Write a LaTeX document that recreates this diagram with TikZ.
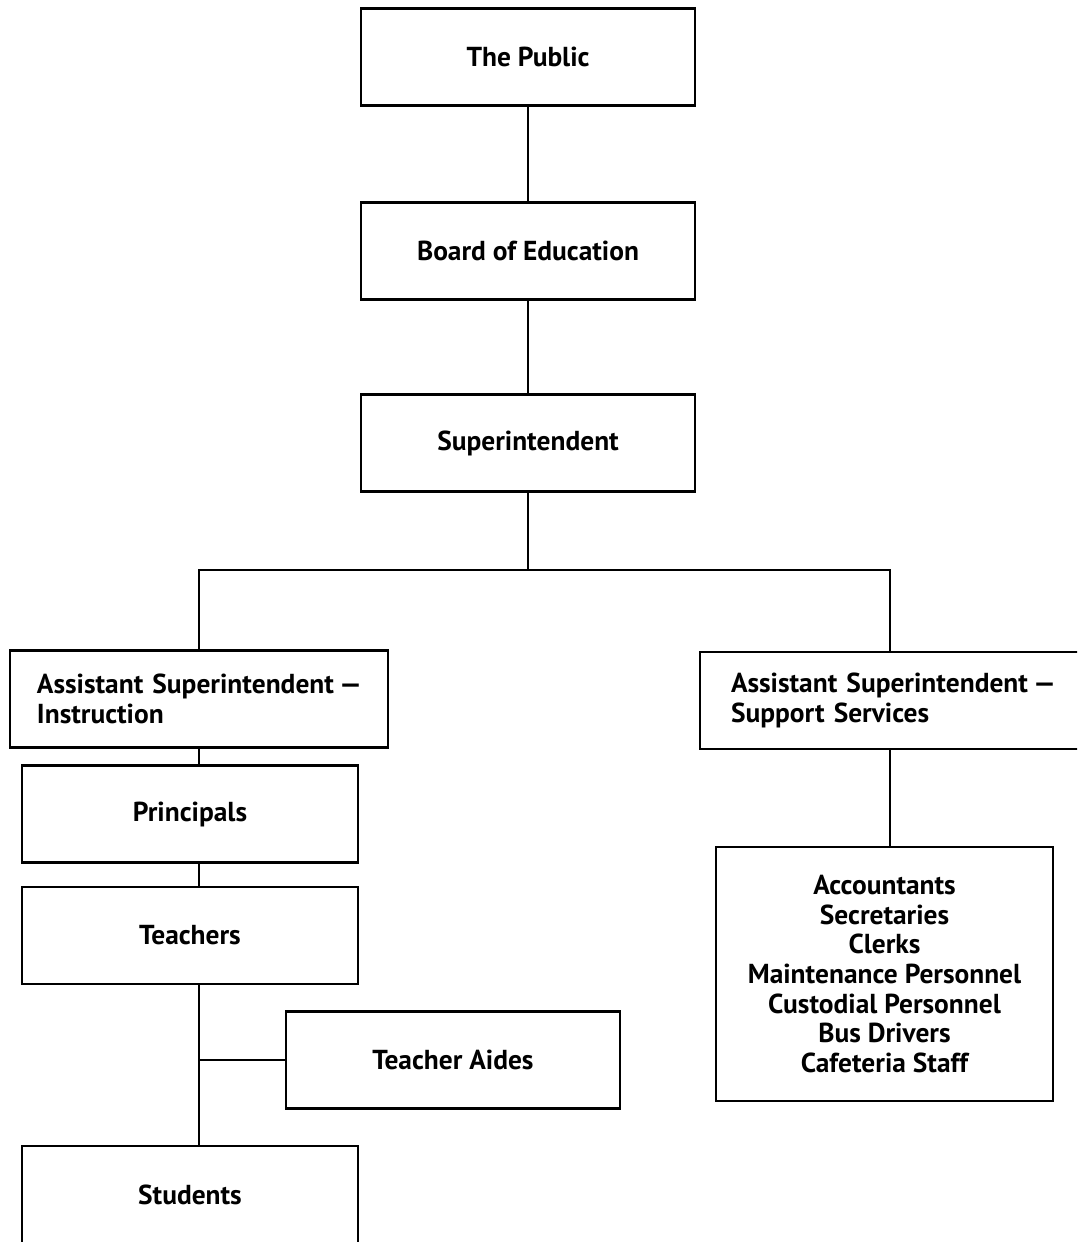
\documentclass[tikz,border=0pt]{standalone}
\usepackage{fontspec}
\setmainfont{PT Sans}
\usetikzlibrary{positioning}
\tikzset{
  orgbox/.style={draw, line width=0.7pt, minimum width=3.34cm, minimum height=0.97cm,
    align=center, inner sep=0pt, font=\bfseries\fontsize{7.8}{8.4}\selectfont},
  asstbox/.style={orgbox, text width=3.24cm, align=left, inner xsep=0.27cm, minimum width=3.78cm},
  link/.style={line width=0.7pt}
}

\begin{document}
\begin{tikzpicture}
			%%%%% START %%%%%
			\useasboundingbox (0, 0) rectangle (10.77, -12.42);
			\clip (0, 0) rectangle (10.77, -12.42);
			
			\node[orgbox] (public) at (5.28, -0.57) {The Public};
			\node[orgbox] (board) at (5.28, -2.51) {Board of Education};
			\node[orgbox] (super) at (5.28, -4.43) {Superintendent};
			
			\coordinate (fork) at (5.28, -5.70);
			
			\node[asstbox] (instr) at (1.99, -6.99) {\mbox{Assistant Superintendent\hspace{0.2em}---}\\Instruction};
			\node[asstbox, text width=3.18cm, inner xsep=0.31cm, minimum width=3.8cm] (support) at (8.90, -7.005)
				{\mbox{Assistant Superintendent\hspace{0.2em}---}\\Support Services};
			
			\node[orgbox, minimum width=3.36cm] (princ) at (1.90, -8.14) {Principals};
			\node[orgbox, minimum width=3.36cm] (teach) at (1.90, -9.355) {Teachers};
			\node[orgbox] (aides) at (4.53, -10.60) {Teacher Aides};
			\node[orgbox, minimum width=3.36cm, minimum height=0.98cm] (stud) at (1.90, -11.95) {Students};
			
			\node[orgbox, minimum width=3.37cm, minimum height=2.54cm] (staff) at (8.845, -9.74)
				{Accountants\\Secretaries\\Clerks\\Maintenance Personnel\\Custodial Personnel\\Bus Drivers\\Cafeteria Staff};
			
			\draw[link] (public) -- (board);
			\draw[link] (board) -- (super);
			\draw[link] (super) -- (fork);
			\draw[link] (instr.north) |- (fork) -| (support.north);
			
			\draw[link] (instr.south) -- (instr.south |- princ.north);
			\draw[link] (instr.south |- princ.south) -- (instr.south |- teach.north);
			\draw[link] (instr.south |- teach.south) -- (instr.south |- stud.north);
			\coordinate (aidejoin) at (instr.south |- aides.west);
			\draw[link] (aidejoin) -- (aides.west);
			
			\draw[link] (support) -- (support |- staff.north);
			%%%%% END %%%%%
		\end{tikzpicture}
\end{document}
